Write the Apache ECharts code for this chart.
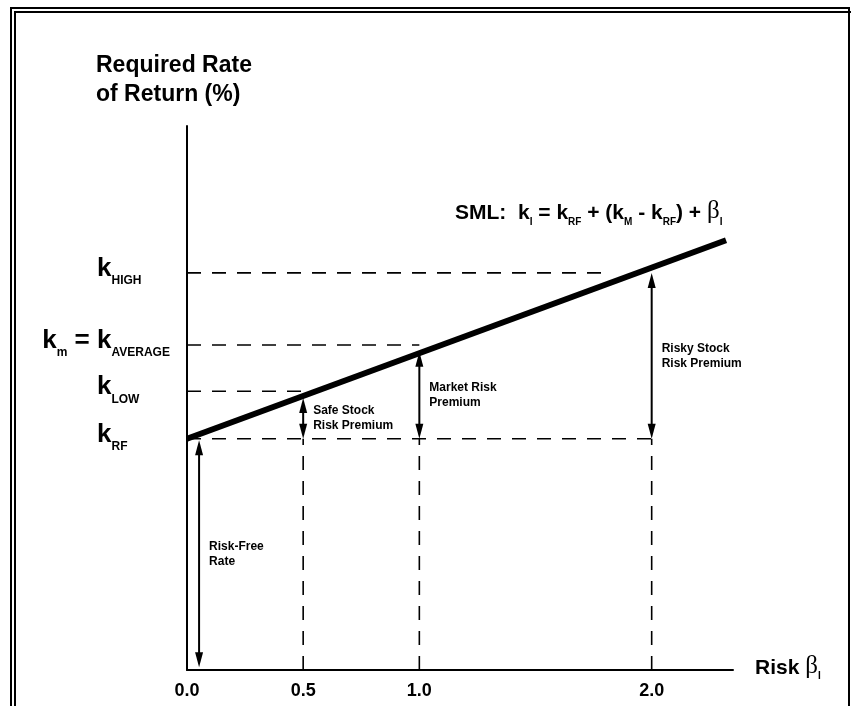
<!DOCTYPE html>
<html>
<head>
<meta charset="utf-8">
<title>Security Market Line</title>
<script src="https://cdn.jsdelivr.net/npm/echarts@6/dist/echarts.min.js"></script>
<style>
  html, body { margin: 0; padding: 0; background: #fff; }
  #chart { width: 851px; height: 706px; }
</style>
</head>
<body>
<div id="chart"></div>
<script>
// beta ticks that get a label
const betaTicks = [0, 0.5, 1.0, 2.0];
// SML end points [beta, k %]
const smlPoints = [[0, 8.5], [2.32, 15.8]];
// required-return levels on the y side
const levelSubs = ['RF', 'LOW', 'AVERAGE', 'HIGH'];
const levelValues = [8.5, 10.25, 11.95, 14.6];
const levelGuideEnd = [2.0, 0.5, 1.0, 1.82];
// vertical dashed guides from axis up to k_RF
const guideBetas = [0.5, 1.0, 2.0];
// premium arrows
const arrowBetas = [0.052, 0.5, 1.0, 2.0];
const arrowFrom = [0.1, 8.5, 8.5, 8.5];
const arrowTo = [8.45, 10.0, 11.7, 14.6];
const arrowTexts = ['Risk-Free\nRate', 'Safe Stock\nRisk Premium', 'Market Risk\nPremium', 'Risky Stock\nRisk Premium'];

const FONT = '"Liberation Sans", Arial, Helvetica, sans-serif';
const chart = echarts.init(document.getElementById('chart'));

// rich styles for "k" with subscripts (echarts label style)
function richStyle(size, subSize, drop) {
  return {
    b: { fontFamily: FONT, fontSize: size, fontWeight: 'bold', color: '#000', lineHeight: size + 2, verticalAlign: 'bottom', padding: [0, 0, drop, 0] },
    g: { fontFamily: '"Liberation Serif", "DejaVu Serif", serif', fontSize: size + 4, fontWeight: 'normal', color: '#000', lineHeight: size + 2, verticalAlign: 'bottom', padding: [0, 0, drop, 0] },
    s: { fontFamily: FONT, fontSize: subSize, fontWeight: 'bold', color: '#000', lineHeight: subSize, verticalAlign: 'bottom' }
  };
}
// same thing for zrender text in custom series
function zrRich(size, subSize, drop) {
  return {
    k: { fontFamily: FONT, fontSize: size, fontWeight: 'bold', fill: '#000', lineHeight: size, verticalAlign: 'bottom', padding: [0, 0, drop, 0] },
    s: { fontFamily: FONT, fontSize: subSize, fontWeight: 'bold', fill: '#000', lineHeight: subSize, verticalAlign: 'bottom' }
  };
}

const guideData = levelValues.map((v, i) => [0, v, levelGuideEnd[i], v])
  .concat(guideBetas.map(b => [b, 0, b, levelValues[0]]));

const option = {
  animation: false,
  grid: { left: 187, right: 118, top: 126, bottom: 36 },
  title: [
    {
      text: 'Required Rate\nof Return (%)',
      left: 91, top: 46,
      textStyle: { fontFamily: FONT, fontSize: 23, fontWeight: 'bold', color: '#000', lineHeight: 29 }
    },
    {
      text: '{b|SML:  k}{s|I}{b| = k}{s|RF}{b| + (k}{s|M}{b| - k}{s|RF}{b|) + }{g|β}{s|I}',
      left: 450, top: 199,
      textStyle: { rich: richStyle(21, 10, 3) }
    }
  ],
  xAxis: {
    type: 'value', min: 0, max: 2.35, interval: 0.5,
    axisLine: { lineStyle: { color: '#000', width: 2 } },
    axisTick: { show: false },
    splitLine: { show: false },
    axisLabel: {
      margin: 12, color: '#000', fontFamily: FONT, fontSize: 18, fontWeight: 'bold',
      formatter: v => betaTicks.includes(v) ? v.toFixed(1) : ''
    },
    name: '{b|Risk }{g|β}{s|I}',
    nameLocation: 'end', nameGap: 22,
    nameTextStyle: { rich: richStyle(21, 10, 3) }
  },
  yAxis: {
    type: 'value', min: 0, max: 20,
    axisLine: { show: true, lineStyle: { color: '#000', width: 2 } },
    axisTick: { show: false },
    axisLabel: { show: false },
    splitLine: { show: false }
  },
  graphic: [
    { type: 'rect', shape: { x: 11, y: 8, width: 838, height: 720 }, style: { fill: 'none', stroke: '#000', lineWidth: 2 } },
    { type: 'polyline', shape: { points: [[15, 720], [15, 12], [851, 12]] }, style: { fill: 'none', stroke: '#000', lineWidth: 2 } }
  ],
  series: [
    {
      // dashed guide lines
      type: 'custom', z: 1,
      data: guideData,
      renderItem: (params, api) => {
        const a = api.coord([api.value(0), api.value(1)]);
        const b = api.coord([api.value(2), api.value(3)]);
        return {
          type: 'line',
          shape: { x1: a[0], y1: a[1], x2: b[0], y2: b[1] },
          style: { stroke: '#000', lineWidth: 1.6, lineDash: [14, 11] }
        };
      }
    },
    {
      type: 'line', z: 3,
      data: smlPoints,
      symbol: 'none',
      lineStyle: { color: '#000', width: 6, cap: 'butt' }
    },
    {
      // double-headed arrows with their captions
      type: 'custom', z: 4,
      data: arrowBetas.map((b, i) => [b, arrowFrom[i], arrowTo[i], i]),
      renderItem: (params, api) => {
        const p1 = api.coord([api.value(0), api.value(1)]);
        const p2 = api.coord([api.value(0), api.value(2)]);
        const i = api.value(3);
        const x = p1[0];
        const yb = Math.max(p1[1], p2[1]);
        const yt = Math.min(p1[1], p2[1]);
        const hl = 15, hw = 4;
        return {
          type: 'group',
          children: [
            { type: 'line', shape: { x1: x, y1: yt + hl - 2, x2: x, y2: yb - hl + 2 }, style: { stroke: '#000', lineWidth: 2 } },
            { type: 'polygon', shape: { points: [[x, yt], [x - hw, yt + hl], [x + hw, yt + hl]] }, style: { fill: '#000' } },
            { type: 'polygon', shape: { points: [[x, yb], [x - hw, yb - hl], [x + hw, yb - hl]] }, style: { fill: '#000' } },
            {
              type: 'text',
              style: {
                text: arrowTexts[i], x: x + 10, y: (yt + yb) / 2,
                fill: '#000', fontFamily: FONT, fontSize: 12, fontWeight: 'bold', lineHeight: 15,
                align: 'left', verticalAlign: 'middle', textAlign: 'left', textVerticalAlign: 'middle'
              }
            }
          ]
        };
      }
    },
    {
      // k labels on the left of the y axis
      type: 'custom', z: 5,
      data: levelValues.map((v, i) => [0, v, i]),
      renderItem: (params, api) => {
        const p = api.coord([0, api.value(1)]);
        const name = levelSubs[api.value(2)];
        const x = p[0] - 90, y = p[1] + 1;
        const children = [{
          type: 'text',
          style: {
            text: '{k|k}{s|' + name + '}', x: x, y: y, rich: zrRich(26, 12, 5),
            align: 'left', verticalAlign: 'middle', textAlign: 'left', textVerticalAlign: 'middle'
          }
        }];
        if (name === 'AVERAGE') {
          children.push({
            type: 'text',
            style: {
              text: '{k|k}{s|m}{k| = }', x: x, y: y, rich: zrRich(26, 12, 5),
              align: 'right', verticalAlign: 'middle', textAlign: 'right', textVerticalAlign: 'middle'
            }
          });
        }
        return { type: 'group', children: children };
      }
    }
  ]
};

chart.setOption(option);
window.addEventListener('resize', () => chart.resize());
</script>
</body>
</html>
